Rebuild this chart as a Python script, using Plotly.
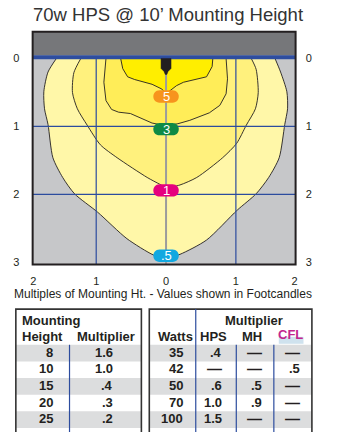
import plotly.graph_objects as go

W, H = 349, 432
FONT = "Liberation Sans, Arial, sans-serif"
INK = "#231F20"
BLUE = "#2C4C9E"

# ---- Isolux contours (footcandles), in multiples of mounting height ----
# x: lateral offset from the fixture, y: distance forward (down the page)
fc_levels = [0.5, 1, 3, 5]
fc_label_text = [".5", "1", "3", "5"]
fc_label_y = [2.90, 1.94, 1.04, 0.56]
fc_label_colors = ["#12A8E0", "#E6007E", "#0E8A45", "#F7941D"]
fc_fill_colors = ["#FFF7A8", "#FFF17D", "#FFED58", "#FFEE00"]

c05_x = [-1.57, -1.69, -1.75, -1.74, -1.69, -1.62, -1.48, -1.31, -0.98, -0.56, -0.18, 0.0,
         0.20, 0.58, 1.02, 1.29, 1.47, 1.62, 1.70, 1.74, 1.73, 1.64, 1.56]
c05_y = [0.0, 0.20, 0.49, 0.74, 0.97, 1.46, 1.75, 1.99, 2.26, 2.65, 2.89, 2.94,
         2.88, 2.67, 2.23, 1.99, 1.75, 1.46, 0.97, 0.74, 0.49, 0.20, 0.0]

c1_x = [-1.22, -1.32, -1.34, -1.27, -1.13, -0.94, -0.70, -0.27, -0.09, 0.0,
        0.20, 0.44, 0.81, 1.01, 1.15, 1.28, 1.32, 1.29, 1.22]
c1_y = [0.0, 0.21, 0.50, 0.74, 0.98, 1.27, 1.46, 1.75, 1.85, 1.90,
        1.86, 1.75, 1.46, 1.25, 0.98, 0.74, 0.50, 0.16, 0.0]

c3_x = [-0.86, -0.89, -0.86, -0.78, -0.68, -0.51, -0.20, 0.0,
        0.17, 0.34, 0.62, 0.77, 0.86, 0.88, 0.86]
c3_y = [0.0, 0.35, 0.62, 0.75, 0.79, 0.81, 0.95, 0.99,
        0.96, 0.91, 0.80, 0.69, 0.52, 0.30, 0.0]

c5_x = [-0.65, -0.62, -0.55, -0.45, -0.20, -0.06, 0.0, 0.06, 0.15, 0.25, 0.58, 0.66, 0.67]
c5_y = [0.0, 0.15, 0.27, 0.31, 0.38, 0.45, 0.52, 0.47, 0.40, 0.35, 0.27, 0.12, 0.0]

contours = [(c05_x, c05_y), (c1_x, c1_y), (c3_x, c3_y), (c5_x, c5_y)]

# ---- Axis ticks ----
x_tick_vals = [-1.9, -1, 0, 1, 1.84]
x_tick_text = ["2", "1", "0", "1", "2"]
y_tick_vals = [0, 1, 2, 3]
grid_x = [-1, 1]
grid_y = [1, 2]

# ---- Tables ----
mount_heights = [8, 10, 15, 20, 25]
height_multipliers = [1.6, 1.0, 0.4, 0.3, 0.2]
watts = [35, 42, 50, 70, 100]
hps_mult = [0.4, None, 0.6, 1.0, 1.5]
mh_mult = [None, None, 0.5, 0.9, None]
cfl_mult = [None, 0.5, None, None, None]

X_RANGE = [-1.91, 1.855]
Y_RANGE = [3.03, -0.393]
DASH = "—"


def fmt(v):
    if v is None:
        return DASH
    s = f"{v:.1f}"
    return s[1:] if s.startswith("0") else s


def px(x):
    return x / W


def py(y):
    return 1 - y / H


fig = go.Figure()

# filled contour bands
for (cx, cy), col, lvl in zip(contours, fc_fill_colors, fc_levels):
    fig.add_trace(go.Scatter(
        x=cx, y=cy, fill="toself", fillcolor=col, mode="lines",
        line=dict(color=INK, width=0.9, shape="spline" if lvl < 3 else "linear", smoothing=0.7),
        hoverinfo="skip", showlegend=False))

# grid lines
for gy in grid_y:
    fig.add_trace(go.Scatter(x=X_RANGE, y=[gy, gy], mode="lines",
                             line=dict(color=BLUE, width=1.2), hoverinfo="skip", showlegend=False))
for gx in grid_x:
    fig.add_trace(go.Scatter(x=[gx, gx], y=[0, Y_RANGE[0]], mode="lines",
                             line=dict(color=BLUE, width=1.2), hoverinfo="skip", showlegend=False))
fig.add_trace(go.Scatter(x=[0, 0], y=[0.1, Y_RANGE[0]], mode="lines",
                         line=dict(color="#9C9C9C", width=2), hoverinfo="skip", showlegend=False))
# right-side axis carrier
fig.add_trace(go.Scatter(x=[0], y=[0], yaxis="y2", mode="markers", marker=dict(opacity=0),
                         hoverinfo="skip", showlegend=False))

shapes = []
annotations = []

# housing band and fixture line
shapes.append(dict(type="rect", xref="x", yref="y", x0=X_RANGE[0], x1=X_RANGE[1],
                   y0=Y_RANGE[1], y1=-0.045, fillcolor="#76777A", line_width=0, layer="above"))
shapes.append(dict(type="rect", xref="x", yref="y", x0=X_RANGE[0], x1=X_RANGE[1],
                   y0=-0.045, y1=0.012, fillcolor="#2E4D9F", line_width=0, layer="above"))
# luminaire
shapes.append(dict(type="path", xref="x", yref="y", xsizemode="pixel", ysizemode="pixel",
                   xanchor=0, yanchor=0,
                   path="M -5,0 L 5,0 L 5,-10 L 2,-13 L 0.8,-16 L -0.8,-16 L -2,-13 L -5,-10 Z",
                   fillcolor=INK, line=dict(color=INK, width=0.5), layer="above"))

# value pills
for txt, yv, col in zip(fc_label_text, fc_label_y, fc_label_colors):
    shapes.append(dict(type="path", xref="x", yref="y", xsizemode="pixel", ysizemode="pixel",
                       xanchor=0, yanchor=yv,
                       path="M -6.5,-6.2 L 6.5,-6.2 C 14.8,-6.2 14.8,6.2 6.5,6.2 L -6.5,6.2 "
                            "C -14.8,6.2 -14.8,-6.2 -6.5,-6.2 Z",
                       fillcolor=col, line_width=0, layer="above"))
    annotations.append(dict(x=0, y=yv, xref="x", yref="y", text=txt, showarrow=False,
                            font=dict(family=FONT, size=13, color="white"),
                            xanchor="center", yanchor="middle", borderpad=0))

# frame
shapes.append(dict(type="rect", xref="paper", yref="paper", x0=px(31), x1=px(297),
                   y0=py(267), y1=py(32), line=dict(color=INK, width=2), layer="above"))

# title and caption
annotations.append(dict(x=px(168), y=py(15), xref="paper", yref="paper",
                        text="70w HPS @ 10’ Mounting Height", showarrow=False,
                        font=dict(family=FONT, size=18.5, color="#333333"),
                        xanchor="center", yanchor="middle"))
annotations.append(dict(x=px(162.5), y=py(297), xref="paper", yref="paper",
                        text="Multiples of Mounting Ht. - Values shown in Footcandles",
                        showarrow=False, font=dict(family=FONT, size=12, color=INK),
                        xanchor="center", yanchor="middle"))

# ---- tables ----
ROW_TOP, ROW_H, N = 348, 16.8, len(watts)
TAB_TOP, TAB_BOT = 312, 440
BORDER = "#333333"
STRIPE = "#DCDDDE"


def row_mid(i):
    return ROW_TOP + ROW_H * (i + 0.5) - 1


def text(x, y, s, anchor="right", size=13, color=INK, bold=True):
    if s == DASH:
        size = 15
    annotations.append(dict(x=px(x), y=py(y), xref="paper", yref="paper",
                            text=f"<b>{s}</b>" if bold else s, showarrow=False,
                            font=dict(family=FONT, size=size, color=color),
                            xanchor=anchor, yanchor="middle", borderpad=0))


for (x0, x1) in [(14, 141), (149, 313.5)]:
    for i in range(0, N, 2):
        shapes.append(dict(type="rect", xref="paper", yref="paper", x0=px(x0), x1=px(x1),
                           y0=py(ROW_TOP + ROW_H * (i + 1)), y1=py(ROW_TOP + ROW_H * i),
                           fillcolor=STRIPE, line_width=0, layer="above"))
    shapes.append(dict(type="rect", xref="paper", yref="paper", x0=px(x0), x1=px(x1),
                       y0=py(TAB_BOT), y1=py(TAB_TOP), line=dict(color=BORDER, width=1.6),
                       layer="above"))

for (xv, ytop) in [(68.3, ROW_TOP), (196, TAB_TOP), (237, ROW_TOP), (275, ROW_TOP)]:
    shapes.append(dict(type="line", xref="paper", yref="paper", x0=px(xv), x1=px(xv),
                       y0=py(TAB_BOT), y1=py(ytop), line=dict(color=BLUE, width=1.2),
                       layer="above"))

# left table
text(19, 323, "Mounting", anchor="left")
text(19, 339.5, "Height", anchor="left")
text(75, 339.5, "Multiplier", anchor="left")
for i, (hgt, m) in enumerate(zip(mount_heights, height_multipliers)):
    text(53, row_mid(i), str(hgt))
    text(113, row_mid(i), fmt(m))

# right table
text(255, 323, "Multiplier", anchor="center")
text(194, 339.5, "Watts")
text(214, 339.5, "HPS", anchor="center")
text(253, 339.5, "MH", anchor="center")
shapes.append(dict(type="rect", xref="paper", yref="paper", x0=px(280), x1=px(305),
                   y0=py(347), y1=py(340), fillcolor="#CFE2EE", line_width=0, layer="above"))
text(292, 338, "CFL", anchor="center", size=13, color="#C2268E")
for i, w in enumerate(watts):
    text(184, row_mid(i), str(w))
    text(224, row_mid(i), fmt(hps_mult[i]))
    text(264, row_mid(i), fmt(mh_mult[i]))
    text(302, row_mid(i), fmt(cfl_mult[i]))

tick_font = dict(family=FONT, size=11, color=INK)
fig.update_layout(
    width=W, height=H,
    margin=dict(l=0, r=0, t=0, b=0, pad=0),
    paper_bgcolor="white", plot_bgcolor="#C6C7C9",
    showlegend=False,
    shapes=shapes, annotations=annotations,
    xaxis=dict(domain=[px(31), px(297)], range=X_RANGE, tickvals=x_tick_vals,
               ticktext=x_tick_text, showgrid=False, zeroline=False, showline=False,
               ticks="outside", ticklen=6, tickcolor="rgba(0,0,0,0)", tickfont=tick_font,
               fixedrange=True),
    yaxis=dict(domain=[py(267), py(32)], range=Y_RANGE, tickvals=y_tick_vals,
               showgrid=False, zeroline=False, showline=False,
               ticks="outside", ticklen=10, tickcolor="rgba(0,0,0,0)", tickfont=tick_font,
               fixedrange=True),
    yaxis2=dict(overlaying="y", side="right", anchor="x", range=Y_RANGE, tickvals=y_tick_vals,
                showgrid=False, zeroline=False, showline=False,
                ticks="outside", ticklen=7, tickcolor="rgba(0,0,0,0)", tickfont=tick_font,
                fixedrange=True),
)

fig.write_html("out.html", config={"displayModeBar": False})
